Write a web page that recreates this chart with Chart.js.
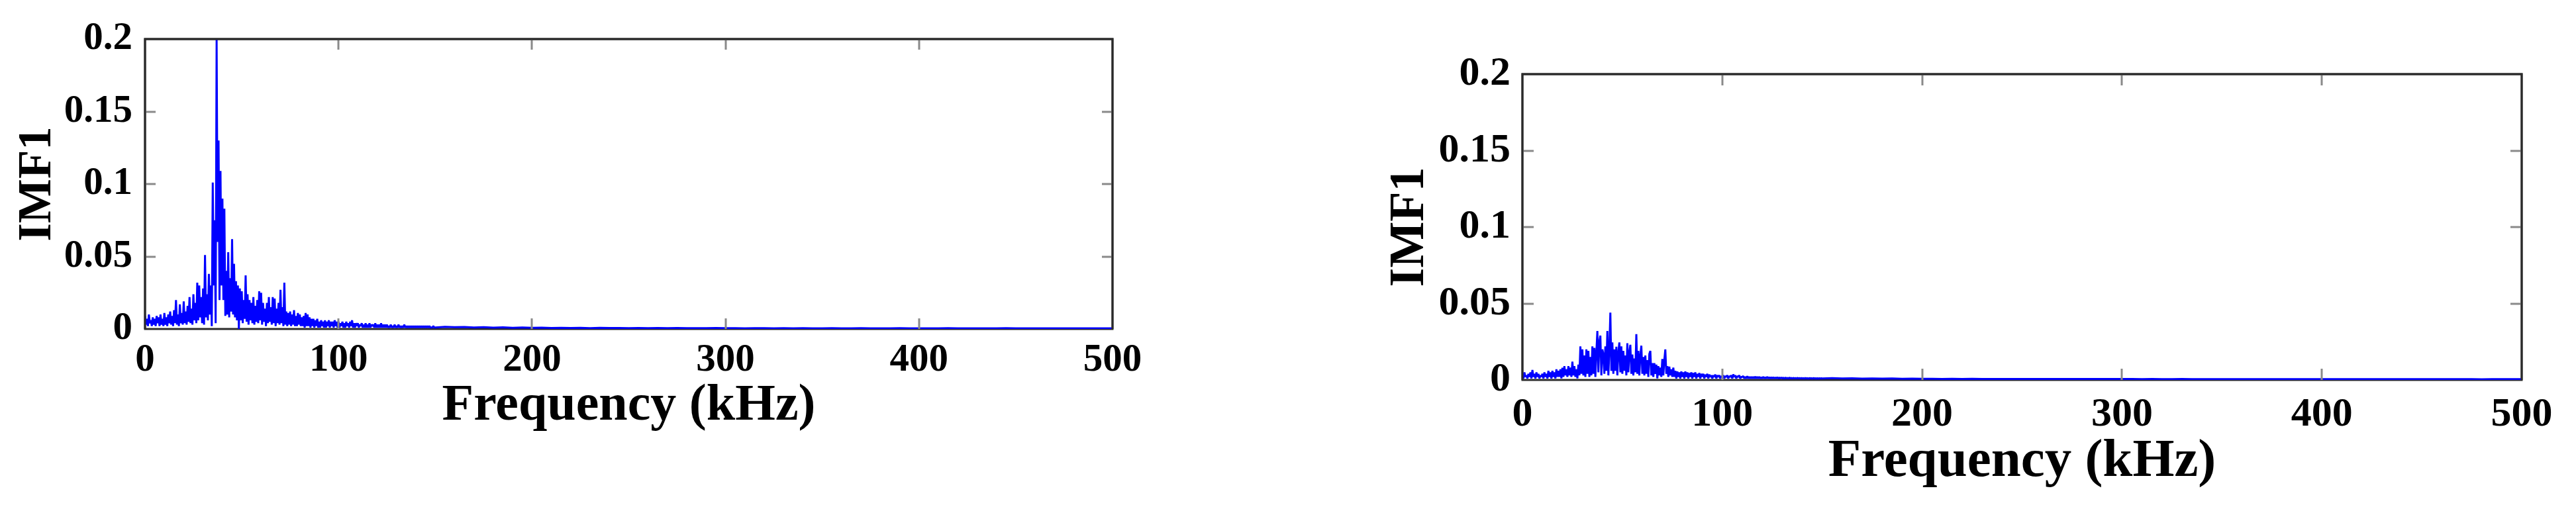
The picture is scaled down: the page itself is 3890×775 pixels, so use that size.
<!DOCTYPE html>
<html>
<head>
<meta charset="utf-8">
<script src="https://cdn.jsdelivr.net/npm/chart.js@4.4.1/dist/chart.umd.min.js"></script>
<style>
  html, body { margin: 0; padding: 0; background: #ffffff; }
  body { width: 3890px; height: 775px; position: relative; overflow: hidden; }
  #c1 { position: absolute; left: 0; top: 0; }
  #c2 { position: absolute; left: 1900px; top: 0; }
</style>
</head>
<body>
<canvas id="c1" width="1780" height="775"></canvas>
<canvas id="c2" width="1990" height="775"></canvas>
<script>
// ---- Data ----
const freqKHz = [
  0,0.5,1,1.5,2,2.5,3,3.5,4,4.5, 5,5.5,6,6.5,7,7.5,8,8.5,9,9.5,
  10,10.5,11,11.5,12,12.5,13,13.5,14,14.5, 15,15.5,16,16.5,17,17.5,18,18.5,19,19.5,
  20,20.5,21,21.5,22,22.5,23,23.5,24,24.5, 25,25.5,26,26.5,27,27.5,28,28.5,29,29.5,
  30,30.5,31,31.5,32,32.5,33,33.5,34,34.5, 35,35.5,36,36.5,37,37.5,38,38.5,39,39.5,
  40,40.5,41,41.5,42,42.5,43,43.5,44,44.5, 45,45.5,46,46.5,47,47.5,48,48.5,49,49.5,
  50,50.5,51,51.5,52,52.5,53,53.5,54,54.5, 55,55.5,56,56.5,57,57.5,58,58.5,59,59.5,
  60,60.5,61,61.5,62,62.5,63,63.5,64,64.5, 65,65.5,66,66.5,67,67.5,68,68.5,69,69.5,
  70,70.5,71,71.5,72,72.5,73,73.5,74,74.5, 75,75.5,76,76.5,77,77.5,78,78.5,79,79.5,
  80,80.5,81,81.5,82,82.5,83,83.5,84,84.5, 85,85.5,86,86.5,87,87.5,88,88.5,89,89.5,
  90,90.5,91,91.5,92,92.5,93,93.5,94,94.5, 95,95.5,96,96.5,97,97.5,98,98.5,99,99.5,
  100,100.5,101,101.5,102,102.5,103,103.5,104,104.5, 105,105.5,106,106.5,107,107.5,108,108.5,109,109.5,
  110,110.5,111,111.5,112,112.5,113,113.5,114,114.5, 115,115.5,116,116.5,117,117.5,118,118.5,119,119.5,
  120,120.5,121,121.5,122,122.5,123,123.5,124,124.5, 125,125.5,126,126.5,127,127.5,128,128.5,129,129.5,
  130,130.5,131,131.5,132,132.5,133,133.5,134,134.5, 135,135.5,136,136.5,137,137.5,138,138.5,139,139.5,
  140,140.5,141,141.5,142,142.5,143,143.5,144,144.5, 145,145.5,146,146.5,147,147.5,148,148.5,149,149.5,
  150,
  155,160,165,170,175,180,185,190,195,200,
  205,210,215,220,225,230,235,240,245,250,
  255,260,265,270,275,280,285,290,295,300,
  305,310,315,320,325,330,335,340,345,350,
  355,360,365,370,375,380,385,390,395,400,
  405,410,415,420,425,430,435,440,445,450,
  455,460,465,470,475,480,485,490,495,500
];

const imf1Left = [
  0.009,0.003,0.007,0.002,0.010,0.004,0.006,0.002,0.008,0.003,
  0.007,0.002,0.009,0.004,0.008,0.002,0.010,0.003,0.007,0.002,
  0.011,0.003,0.008,0.002,0.010,0.004,0.012,0.003,0.009,0.002,
  0.013,0.004,0.020,0.003,0.010,0.002,0.017,0.004,0.011,0.003,
  0.019,0.004,0.012,0.003,0.016,0.005,0.022,0.004,0.014,0.003,
  0.024,0.006,0.018,0.004,0.032,0.006,0.030,0.008,0.022,0.004,
  0.028,0.003,0.051,0.008,0.024,0.006,0.038,0.010,0.030,0.002,
  0.101,0.030,0.075,0.004,0.200,0.060,0.130,0.020,0.109,0.030,
  0.090,0.020,0.083,0.009,0.040,0.010,0.053,0.008,0.035,0.012,
  0.062,0.010,0.045,0.008,0.033,0.006,0.030,0.000,0.028,0.006,
  0.026,0.004,0.020,0.007,0.037,0.005,0.024,0.003,0.020,0.006,
  0.018,0.004,0.022,0.003,0.016,0.005,0.020,0.004,0.026,0.006,
  0.025,0.003,0.018,0.005,0.014,0.002,0.018,0.004,0.022,0.005,
  0.015,0.003,0.022,0.004,0.021,0.002,0.014,0.004,0.018,0.003,
  0.027,0.004,0.015,0.002,0.032,0.003,0.012,0.002,0.011,0.003,
  0.012,0.002,0.010,0.003,0.013,0.002,0.009,0.002,0.011,0.003,
  0.010,0.002,0.008,0.002,0.009,0.001,0.011,0.002,0.010,0.002,
  0.008,0.001,0.007,0.002,0.007,0.001,0.006,0.002,0.007,0.001,
  0.005,0.001,0.006,0.002,0.005,0.001,0.006,0.001,0.005,0.002,
  0.006,0.001,0.005,0.002,0.005,0.001,0.006,0.002,0.005,0.001,
  0.005,0.001,0.004,0.002,0.005,0.001,0.004,0.001,0.005,0.002,
  0.004,0.001,0.005,0.002,0.006,0.001,0.004,0.001,0.004,0.002,
  0.004,0.001,0.003,0.002,0.004,0.001,0.003,0.001,0.004,0.001,
  0.003,0.001,0.004,0.001,0.003,0.002,0.003,0.001,0.004,0.001,
  0.003,0.001,0.003,0.001,0.004,0.001,0.003,0.001,0.003,0.001,
  0.003,0.001,0.002,0.001,0.003,0.001,0.002,0.001,0.003,0.001,
  0.002,0.001,0.003,0.001,0.002,0.001,0.002,0.001,0.003,0.001,
  0.002,0.001,0.002,0.001,0.002,0.001,0.002,0.001,0.002,0.001,
  0.002,0.001,0.002,0.001,0.002,0.001,0.002,0.001,0.002,0.001,
  0.002,0.001,0.002,0.001,0.002,0.001,0.001,0.001,0.002,0.001,
  0.001,
  0.0015,0.0012,0.0014,0.0010,0.0012,0.0009,0.0011,0.0008,0.0010,0.0008,
  0.0009,0.0007,0.0008,0.0007,0.0008,0.0006,0.0008,0.0007,0.0007,0.0006,
  0.0007,0.0006,0.0007,0.0006,0.0007,0.0006,0.0006,0.0006,0.0007,0.0006,
  0.0006,0.0005,0.0006,0.0006,0.0005,0.0006,0.0005,0.0006,0.0005,0.0005,
  0.0006,0.0005,0.0005,0.0006,0.0005,0.0005,0.0005,0.0006,0.0005,0.0005,
  0.0005,0.0005,0.0006,0.0005,0.0005,0.0005,0.0005,0.0005,0.0006,0.0005,
  0.0005,0.0005,0.0005,0.0005,0.0005,0.0004,0.0005,0.0005,0.0005,0.0005
];

const imf1Right = [
  0.004,0.001,0.005,0.002,0.003,0.001,0.004,0.002,0.005,0.001,
  0.0065,0.002,0.004,0.001,0.005,0.002,0.004,0.001,0.003,0.002,
  0.004,0.001,0.005,0.002,0.004,0.001,0.006,0.002,0.005,0.001,
  0.006,0.002,0.005,0.001,0.007,0.002,0.006,0.002,0.007,0.001,
  0.008,0.002,0.009,0.003,0.007,0.002,0.009,0.003,0.008,0.002,
  0.012,0.003,0.009,0.002,0.007,0.001,0.010,0.003,0.022,0.004,
  0.020,0.003,0.016,0.002,0.020,0.004,0.019,0.002,0.015,0.003,
  0.022,0.004,0.021,0.002,0.018,0.032,0.005,0.025,0.029,0.003,
  0.020,0.017,0.004,0.022,0.006,0.032,0.003,0.020,0.044,0.006,
  0.0245,0.004,0.020,0.006,0.0217,0.003,0.018,0.0245,0.005,0.022,
  0.004,0.019,0.006,0.016,0.003,0.024,0.005,0.018,0.023,0.004,
  0.0166,0.003,0.014,0.005,0.030,0.004,0.019,0.003,0.016,0.0224,
  0.004,0.015,0.003,0.016,0.004,0.013,0.002,0.017,0.019,0.003,
  0.011,0.002,0.011,0.004,0.010,0.001,0.009,0.003,0.008,0.002,
  0.0137,0.003,0.013,0.020,0.004,0.009,0.002,0.0087,0.003,0.007,
  0.002,0.008,0.002,0.006,0.001,0.0055,0.002,0.005,0.001,0.0055,
  0.002,0.005,0.001,0.0055,0.002,0.005,0.001,0.0045,0.002,0.005,
  0.001,0.0045,0.002,0.005,0.001,0.004,0.002,0.0045,0.001,0.004,
  0.002,0.004,0.001,0.0035,0.002,0.004,0.001,0.0035,0.002,0.003,
  0.001,0.003,0.002,0.0035,0.001,0.003,0.002,0.003,0.001,0.0025,
  0.002,0.003,0.001,0.0025,0.002,0.003,0.001,0.0025,0.002,0.003,
  0.001,0.0036,0.002,0.003,0.001,0.0025,0.002,0.003,0.001,0.002,
  0.002,0.0025,0.001,0.002,0.001,0.0025,0.001,0.002,0.001,0.002,
  0.001,0.002,0.001,0.0022,0.001,0.002,0.001,0.002,0.001,0.0018,
  0.001,0.002,0.001,0.0018,0.001,0.002,0.001,0.0017,0.001,0.0018,
  0.001,0.0017,0.001,0.0016,0.001,0.0017,0.001,0.0015,0.001,0.0016,
  0.001,0.0015,0.0008,0.0015,0.001,0.0014,0.0008,0.0015,0.001,0.0014,
  0.0008,0.0014,0.001,0.0013,0.0008,0.0014,0.0009,0.0013,0.0008,0.0013,
  0.0009,0.0012,0.0008,0.0013,0.0009,0.0012,0.0008,0.0012,0.0009,0.0012,
  0.0008,0.0012,0.0009,0.0011,0.0008,0.0012,0.0008,0.0011,0.0009,0.0011,
  0.001,
  0.0012,0.0010,0.0011,0.0009,0.0010,0.0009,0.0010,0.0008,0.0009,0.0008,
  0.0008,0.0007,0.0008,0.0007,0.0008,0.0006,0.0007,0.0007,0.0007,0.0006,
  0.0007,0.0006,0.0006,0.0006,0.0007,0.0006,0.0006,0.0006,0.0006,0.0006,
  0.0006,0.0005,0.0006,0.0005,0.0005,0.0006,0.0005,0.0005,0.0005,0.0005,
  0.0005,0.0005,0.0005,0.0005,0.0005,0.0005,0.0005,0.0005,0.0005,0.0005,
  0.0005,0.0005,0.0005,0.0005,0.0005,0.0005,0.0005,0.0005,0.0005,0.0005,
  0.0005,0.0005,0.0005,0.0005,0.0005,0.0004,0.0005,0.0005,0.0005,0.0005
];

const xTickValues = [0, 100, 200, 300, 400, 500];
const xTickLabels = ['0', '100', '200', '300', '400', '500'];
const yTickValues = [0, 0.05, 0.1, 0.15, 0.2];
const yTickLabels = ['0', '0.05', '0.1', '0.15', '0.2'];
const xTitle = 'Frequency (kHz)';
const yTitle = 'IMF1';

// ---- Frame + inward tick marks (MATLAB-like box) ----
const boxPlugin = {
  id: 'box',
  beforeDatasetsDraw(chart) {
    const { ctx, chartArea: a } = chart;
    ctx.save();
    ctx.strokeStyle = '#2b2b2b';
    ctx.lineWidth = 3;
    ctx.strokeRect(a.left, a.top, a.right - a.left, a.bottom - a.top);
    ctx.restore();
  },
  afterDatasetsDraw(chart, args, opts) {
    const { ctx, chartArea: a, scales } = chart;
    const len = opts.tickLen;
    ctx.save();
    ctx.strokeStyle = '#8a8a8a';
    ctx.lineWidth = 3;
    ctx.beginPath();
    scales.x.ticks.forEach(t => {
      if (t.value <= scales.x.min || t.value >= scales.x.max) return;
      const px = Math.round(scales.x.getPixelForValue(t.value));
      ctx.moveTo(px, a.top); ctx.lineTo(px, a.top + len);
      ctx.moveTo(px, a.bottom); ctx.lineTo(px, a.bottom - len);
    });
    scales.y.ticks.forEach(t => {
      if (t.value <= scales.y.min || t.value >= scales.y.max) return;
      const py = Math.round(scales.y.getPixelForValue(t.value));
      ctx.moveTo(a.left, py); ctx.lineTo(a.left + len, py);
      ctx.moveTo(a.right, py); ctx.lineTo(a.right - len, py);
    });
    ctx.stroke();
    // redraw frame on top
    ctx.strokeStyle = '#2b2b2b';
    ctx.lineWidth = 3;
    ctx.beginPath();
    ctx.moveTo(a.left, a.bottom); ctx.lineTo(a.left, a.top); ctx.lineTo(a.right, a.top); ctx.lineTo(a.right, a.bottom);
    ctx.stroke();
    ctx.restore();
  }
};

function makeChart(canvasId, values, g) {
  const font = 'Liberation Serif';
  return new Chart(document.getElementById(canvasId), {
    type: 'line',
    data: {
      datasets: [{
        data: freqKHz.map((f, i) => ({ x: f, y: values[i] })),
        borderColor: '#0000ff',
        borderWidth: 3,
        borderJoinStyle: 'bevel',
        pointRadius: 0,
        tension: 0,
        fill: false
      }]
    },
    options: {
      responsive: false,
      animation: false,
      events: [],
      layout: { padding: { left: 0, top: g.top, right: g.right, bottom: 0 } },
      plugins: {
        legend: { display: false },
        tooltip: { enabled: false },
        box: { tickLen: g.tickLen }
      },
      scales: {
        x: {
          type: 'linear',
          min: 0, max: 500,
          afterBuildTicks: s => { s.ticks = xTickValues.map(v => ({ value: v })); },
          afterFit: s => { s.height = g.xAxisH; },
          grid: { display: false, drawTicks: false },
          border: { display: false },
          ticks: {
            autoSkip: false, maxRotation: 0, minRotation: 0,
            padding: g.xTickPad,
            color: '#000',
            font: { family: font, size: g.tickSize, weight: 'bold' },
            callback: (v) => xTickLabels[xTickValues.indexOf(v)]
          },
          title: {
            display: true, text: xTitle, color: '#000',
            font: { family: font, size: g.xTitleSize, weight: 'bold' },
            padding: { top: 0, bottom: g.xTitlePad }
          }
        },
        y: {
          type: 'linear',
          min: 0, max: 0.2,
          afterBuildTicks: s => { s.ticks = yTickValues.map(v => ({ value: v })); },
          afterFit: s => { s.width = g.yAxisW; },
          grid: { display: false, drawTicks: false },
          border: { display: false },
          ticks: {
            padding: g.yTickPad,
            color: '#000',
            font: { family: font, size: g.tickSize, weight: 'bold' },
            callback: (v) => yTickLabels[yTickValues.findIndex(t => Math.abs(t - v) < 1e-9)]
          },
          title: {
            display: true, text: yTitle, color: '#000',
            font: { family: font, size: g.yTitleSize, weight: 'bold' },
            padding: { top: g.yTitlePad, bottom: 0 }
          }
        }
      }
    },
    plugins: [boxPlugin]
  });
}

makeChart('c1', imf1Left, {
  top: 59, right: 100, xAxisH: 278, yAxisW: 219,
  tickSize: 59, xTickPad: 12, yTickPad: 19,
  xTitleSize: 78, xTitlePad: 114, yTitleSize: 71, yTitlePad: 15, tickLen: 16
});
makeChart('c2', imf1Right, {
  top: 112, right: 82, xAxisH: 201, yAxisW: 399,
  tickSize: 62, xTickPad: 16, yTickPad: 18,
  xTitleSize: 81, xTitlePad: 28, yTitleSize: 74, yTitlePad: 185, tickLen: 17
});
</script>
</body>
</html>
